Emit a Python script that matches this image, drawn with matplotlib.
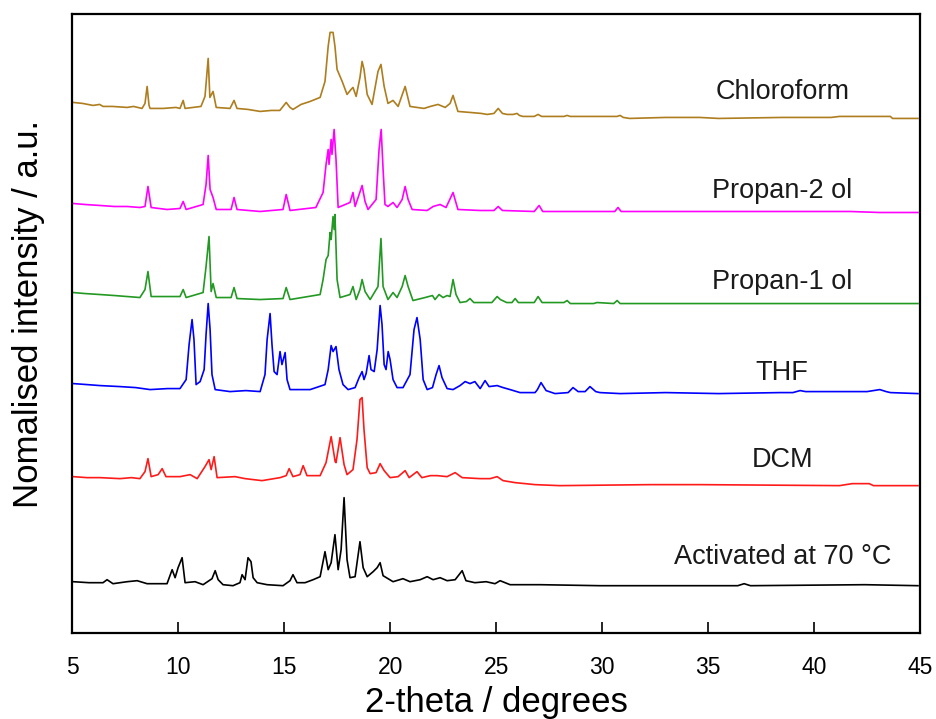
import matplotlib
matplotlib.use("Agg")
import matplotlib.pyplot as plt

plt.rcParams['font.family'] = ['Liberation Sans', 'DejaVu Sans']

# ---- PXRD traces: 2-theta (degrees) and normalised intensity (a.u.) ----
chloroform_2t = [5.05, 5.5, 5.99, 6.3, 6.46, 6.9, 7.6, 7.9, 8.3, 8.44, 8.54, 8.63, 8.68,
                 9.3, 9.9, 10.09, 10.24, 10.33, 11.08, 11.27, 11.42, 11.5, 11.65, 11.8,
                 12.45, 12.64, 12.78, 13.3, 13.87, 14.4, 14.8, 15.1, 15.28, 15.42, 15.8,
                 16.23, 16.7, 16.93, 17.08, 17.17, 17.31, 17.4, 17.5, 17.74, 17.97, 18.16,
                 18.25, 18.4, 18.58, 18.68, 18.77, 18.92, 19.15, 19.43, 19.57, 19.72, 19.9,
                 20.14, 20.38, 20.71, 20.94, 21.27, 21.6, 21.9, 22.26, 22.6, 22.83, 22.97,
                 23.2, 23.77, 24.3, 24.58, 24.9, 25.1, 25.3, 25.52, 25.8, 25.99, 26.1,
                 26.27, 26.8, 26.98, 27.15, 27.69, 28.2, 28.35, 28.5, 29.9, 30.7, 30.85,
                 31.0, 31.3, 33.0, 34.6, 35.5, 38.5, 40.8, 41.2, 43.6, 43.7, 44.9]
chloroform_i = [16, 15, 13, 14, 12, 12, 11, 12, 10, 15, 32, 13, 10,
                10, 11, 10, 18, 10, 12, 22, 60, 21, 27, 11,
                10, 18, 10, 9, 7, 8, 8, 16, 11, 9, 14,
                17, 21, 37, 72, 86, 86, 72, 49, 37, 24, 29,
                31, 22, 41, 57, 49, 24, 14, 47, 54, 32, 15,
                18, 12, 32, 12, 11, 10, 12, 14, 11, 15, 23,
                7, 6, 5, 4, 5, 10, 5, 4, 4, 5, 3,
                2, 2, 4, 2, 2, 2, 3, 2, 2, 2, 3,
                1, 0, 1, 1, 0, 1, 1, 2, 2, 0, 0]

propan2_2t = [5.05, 5.6, 6.32, 7.0, 7.6, 8.2, 8.44, 8.58, 8.73, 9.48, 10.09, 10.24,
              10.38, 11.18, 11.32, 11.42, 11.51, 11.65, 11.8, 12.5, 12.64, 12.78, 13.87,
              14.95, 15.1, 15.28, 16.5, 16.84, 16.98, 17.08, 17.12, 17.22, 17.26, 17.36,
              17.45, 17.55, 18.11, 18.25, 18.35, 18.54, 18.68, 18.82, 18.96, 19.34, 19.48,
              19.58, 19.67, 19.76, 19.9, 20.14, 20.33, 20.57, 20.71, 20.85, 21.04, 21.75,
              22.03, 22.36, 22.64, 22.97, 23.2, 24.25, 24.9, 25.1, 25.3, 26.8, 27.03,
              27.2, 29.9, 30.6, 30.75, 30.9, 34.62, 41.7, 43.1, 44.9]
propan2_i = [9, 8, 7, 6, 6, 5, 6, 26, 5, 3, 4, 11,
             3, 8, 28, 57, 23, 15, 3, 3, 15, 3, 1,
             3, 18, 2, 5, 20, 48, 63, 48, 73, 58, 83,
             53, 5, 10, 20, 6, 18, 27, 11, 3, 13, 63,
             83, 43, 8, 6, 10, 5, 13, 26, 13, 3, 2,
             6, 8, 5, 20, 3, 2, 2, 6, 2, 1, 7,
             1, 1, 1, 5, 1, 1, 1, 0, 0]

propan1_2t = [5.05, 5.6, 6.32, 7.0, 7.6, 8.2, 8.44, 8.58, 8.73, 9.4, 10.09, 10.24,
              10.38, 11.18, 11.32, 11.46, 11.56, 11.65, 11.8, 12.5, 12.64, 12.78, 13.87,
              14.95, 15.1, 15.28, 16.7, 16.84, 16.98, 17.08, 17.17, 17.22, 17.31, 17.36,
              17.4, 17.5, 17.64, 18.11, 18.25, 18.4, 18.58, 18.68, 18.82, 19.06, 19.43,
              19.57, 19.67, 19.9, 20.14, 20.33, 20.57, 20.71, 20.85, 21.08, 21.65, 22.0,
              22.12, 22.31, 22.5, 22.69, 22.83, 22.97, 23.11, 23.3, 23.6, 23.77, 23.95,
              24.8, 25.05, 25.2, 25.5, 25.75, 25.9, 26.05, 26.8, 26.98, 27.17, 28.2,
              28.35, 28.5, 29.6, 29.76, 30.55, 30.71, 30.85, 35.57, 44.9]
propan1_i = [11, 10, 9, 8, 7, 6, 14, 32, 7, 7, 7, 14,
             6, 11, 37, 67, 12, 20, 6, 6, 16, 5, 4,
             5, 16, 4, 9, 24, 44, 48, 71, 64, 87, 74,
             89, 24, 6, 9, 17, 4, 14, 24, 12, 4, 17,
             65, 17, 4, 11, 6, 17, 28, 17, 3, 6, 8,
             4, 9, 6, 8, 7, 24, 9, 1, 2, 5, 1,
             1, 7, 4, 1, 1, 5, 1, 1, 7, 1, 1,
             3, 0, 0, 1, 0, 3, 0, 0, 0]

thf_2t = [5.05, 5.7, 6.32, 7.26, 8.0, 8.68, 9.5, 10.09, 10.38, 10.52, 10.66, 10.75,
          10.85, 11.04, 11.23, 11.32, 11.42, 11.51, 11.6, 11.75, 12.45, 13.2, 13.87,
          14.1, 14.2, 14.34, 14.43, 14.53, 14.67, 14.81, 14.9, 15.05, 15.14, 15.28, 16.23,
          16.93, 17.08, 17.22, 17.31, 17.45, 17.59, 17.78, 18.02, 18.35, 18.54, 18.68,
          18.77, 18.87, 19.01, 19.1, 19.25, 19.39, 19.53, 19.62, 19.72, 19.81, 19.91,
          20.0, 20.14, 20.33, 20.61, 20.94, 21.13, 21.27, 21.42, 21.56, 21.75, 22.0,
          22.17, 22.31, 22.45, 22.69, 22.97, 23.3, 23.54, 23.77, 24.0, 24.25, 24.48,
          24.67, 25.05, 25.33, 25.66, 26.13, 26.84, 26.95, 27.12, 27.36, 27.78, 28.4,
          28.63, 28.87, 29.2, 29.43, 29.7, 29.9, 30.85, 33.0, 35.5, 38.4, 39.0, 39.34,
          39.6, 40.75, 42.5, 43.1, 43.4, 43.6, 44.9]
thf_i = [10, 9, 8, 7, 6, 4, 5, 5, 14, 49, 74, 54,
         9, 12, 24, 59, 90, 64, 19, 4, 2, 3, 2,
         19, 54, 80, 49, 22, 19, 42, 29, 41, 14, 4, 4,
         9, 24, 48, 42, 47, 24, 9, 4, 6, 16, 22,
         14, 20, 38, 24, 22, 44, 88, 69, 29, 24, 42,
         34, 14, 6, 6, 19, 64, 76, 54, 14, 4, 6,
         19, 28, 16, 5, 4, 8, 12, 10, 12, 5, 13,
         7, 8, 6, 4, 1, 1, 4, 11, 3, 0, 1,
         6, 2, 2, 7, 2, 1, 0, 1, 0, 1, 1, 3,
         2, 2, 2, 4, 2, 1, 0]

dcm_2t = [5.05, 5.7, 6.32, 7.26, 7.8, 8.2, 8.44, 8.58, 8.73, 9.06, 9.25, 9.43, 10.09,
          10.57, 10.9, 11.27, 11.46, 11.56, 11.7, 11.84, 12.69, 13.16, 13.96, 14.81,
          15.1, 15.24, 15.42, 15.75, 15.9, 16.08, 16.7, 16.98, 17.22, 17.41, 17.45,
          17.64, 17.83, 17.97, 18.25, 18.44, 18.58, 18.68, 18.77, 18.92, 19.06, 19.34,
          19.53, 19.72, 20.0, 20.38, 20.71, 20.9, 21.27, 21.5, 21.9, 22.22, 22.69,
          23.07, 23.4, 24.25, 24.72, 25.05, 25.33, 25.9, 26.84, 28.0, 32.26, 34.62,
          41.2, 41.8, 42.6, 42.8, 44.9]
dcm_i = [9, 8, 8, 7, 8, 7, 14, 27, 9, 11, 17, 9, 9,
         11, 7, 19, 26, 16, 29, 8, 9, 7, 5, 8,
         10, 17, 9, 11, 20, 10, 10, 23, 49, 24, 23,
         48, 21, 11, 16, 46, 86, 88, 56, 18, 12, 13,
         22, 15, 8, 9, 15, 8, 14, 8, 10, 10, 9,
         13, 8, 7, 7, 9, 5, 3, 1, 0, 1, 1,
         0, 2, 2, 0, 0]

activated_2t = [5.05, 5.8, 6.46, 6.65, 6.93, 7.6, 8.07, 8.54, 9.48, 9.72, 9.86, 10.0,
                10.19, 10.33, 10.8, 11.18, 11.6, 11.75, 11.89, 12.12, 12.59, 12.92, 13.02,
                13.16, 13.3, 13.44, 13.54, 13.73, 14.2, 14.95, 15.28, 15.42, 15.61, 15.99,
                16.37, 16.7, 16.93, 17.08, 17.22, 17.4, 17.55, 17.69, 17.83, 17.97, 18.11,
                18.35, 18.58, 18.73, 18.92, 19.2, 19.39, 19.53, 19.67, 20.14, 20.61, 20.94,
                21.42, 21.75, 22.03, 22.36, 22.69, 23.07, 23.4, 23.58, 24.0, 24.53, 24.95,
                25.19, 25.66, 27.08, 29.9, 34.62, 36.4, 36.7, 37.0, 42.4, 44.9]
activated_i = [4, 3, 3, 6, 2, 4, 5, 2, 2, 16, 8, 18,
               28, 3, 4, 1, 7, 15, 6, 1, 0, 3, 11,
               6, 28, 24, 8, 3, 1, 0, 5, 11, 3, 3,
               6, 9, 34, 16, 23, 51, 16, 36, 88, 26, 8,
               9, 44, 18, 9, 14, 18, 23, 10, 4, 7, 4,
               6, 9, 6, 8, 5, 6, 15, 5, 3, 4, 2,
               5, 1, 1, 0, 0, 0, 2, 0, 1, 0]

names = ["Activated at 70 \u00b0C", "DCM", "THF", "Propan-1 ol", "Propan-2 ol", "Chloroform"]
two_theta = [activated_2t, dcm_2t, thf_2t, propan1_2t, propan2_2t, chloroform_2t]
intensity = [activated_i, dcm_i, thf_i, propan1_i, propan2_i, chloroform_i]

# ---- stacking and styling ----
offsets = [47, 147, 239, 329, 420, 514]
label_dy = [29, 26, 21, 22, 21, 26]
colors = ["#000000", "#FF1A1A", "#0000FF", "#229922", "#FF00FF", "#AE7D1E"]

fig = plt.figure(figsize=(9.36, 7.19), dpi=100)
ax = fig.add_axes([0.077, 0.120, 0.906, 0.860])

for tt, ii, off, col in zip(two_theta, intensity, offsets, colors):
    ax.plot(tt, [v + off for v in ii], color=col, lw=1.2)

for name, off, dy in zip(names, offsets, label_dy):
    ax.text(38.5, off + dy, name, ha="center", va="center", fontsize=19.5, color="#1a1a1a")

ax.set_xlim(5, 45)
ax.set_ylim(0, 618)
ax.set_yticks([])

ax.set_xticks(range(5, 46, 5))
ax.tick_params(axis="x", direction="in", length=8, width=1.2, pad=17, labelsize=16.5)
for tick in ax.xaxis.get_major_ticks():
    if tick.get_loc() % 10 != 0:
        tick.tick1line.set_markersize(3.6)

for sp in ax.spines.values():
    sp.set_linewidth(1.6)

ax.set_xlabel("2-theta / degrees", fontsize=25, labelpad=5)
ax.set_ylabel("Nomalised intensity / a.u.", fontsize=25)
ax.yaxis.set_label_coords(-0.032, 0.515)

fig.savefig("out.png", dpi=100)
